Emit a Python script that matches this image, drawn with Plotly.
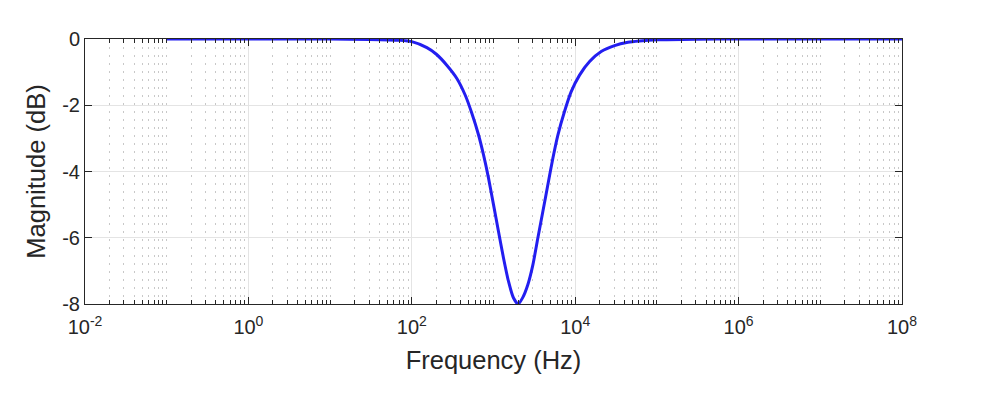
import plotly.graph_objects as go

# Data
freq_hz = [0.1, 1, 10, 30, 72, 100, 153, 200, 268, 356, 450, 543, 655, 755,
           869, 1000, 1151, 1325, 1527, 1758, 2000, 2286, 2630, 3033, 3490,
           4018, 4627, 5330, 6138, 7396, 8933, 11300, 15000, 20800, 30300,
           44200, 61400, 1e5, 3e5, 1e6, 1e7, 1e8]
mag_db = [0, -0.0005, -0.003, -0.012, -0.04, -0.08, -0.26, -0.46, -0.79,
          -1.19, -1.69, -2.24, -2.89, -3.5, -4.2, -5.0, -5.81, -6.61, -7.32,
          -7.82, -8.0, -7.8, -7.42, -6.82, -6.01, -5.21, -4.4, -3.6, -2.9,
          -2.19, -1.59, -1.09, -0.68, -0.38, -0.2, -0.1, -0.06, -0.025,
          -0.004, 0, 0, 0]

x_tickvals = [1e-2, 1e0, 1e2, 1e4, 1e6, 1e8]
x_ticktext = ["10<sup>-2</sup>", "10<sup>0</sup>", "10<sup>2</sup>",
              "10<sup>4</sup>", "10<sup>6</sup>", "10<sup>8</sup>"]
y_tickvals = [0, -2, -4, -6, -8]
y_ticktext = ["0", "-2", "-4", "-6", "-8"]

minor_vals = [m * 10.0 ** k for k in range(-2, 8) for m in range(1, 10)
              if not (m == 1 and k % 2 == 0)]

axis_col = "#262626"
font_family = "Liberation Sans, Arial, sans-serif"

fig = go.Figure()
fig.add_trace(go.Scatter(
    x=freq_hz, y=mag_db, mode="lines",
    line=dict(color="rgb(35,30,240)", width=3, shape="spline", smoothing=0.6),
    showlegend=False,
))

# the page body has an 8px margin, so the figure is 8px smaller on each side
fig.update_layout(
    width=982, height=388,
    margin=dict(l=77, r=88, t=31, b=92, autoexpand=False),
    paper_bgcolor="white", plot_bgcolor="white",
    font=dict(family=font_family, size=20, color=axis_col),
)
fig.update_xaxes(
    type="log", range=[-2, 8], automargin=False,
    tickmode="array", tickvals=x_tickvals, ticktext=x_ticktext,
    ticks="inside", ticklen=7, tickcolor=axis_col, tickwidth=1,
    ticklabelstandoff=5,
    showline=True, linecolor=axis_col, linewidth=1, mirror="allticks",
    showgrid=True, gridcolor="#e4e4e4", gridwidth=1,
    zeroline=False,
    minor=dict(tickmode="array", tickvals=minor_vals, ticks="inside",
               ticklen=4, tickcolor=axis_col, showgrid=True,
               gridcolor="#c8c8c8", griddash="2px,6px", gridwidth=1),
    title=dict(text="Frequency (Hz)", font=dict(size=25.5), standoff=14),
    tickfont=dict(size=20),
)
fig.update_yaxes(
    range=[-8, 0], automargin=False,
    tickmode="array", tickvals=y_tickvals, ticktext=y_ticktext,
    ticks="inside", ticklen=7, tickcolor=axis_col, tickwidth=1,
    showline=True, linecolor=axis_col, linewidth=1, mirror="allticks",
    showgrid=True, gridcolor="#e4e4e4", gridwidth=1,
    zeroline=False,
    title=dict(text="Magnitude (dB)", font=dict(size=25.5), standoff=9),
    tickfont=dict(size=20),
)

fig.write_html("out.html")
